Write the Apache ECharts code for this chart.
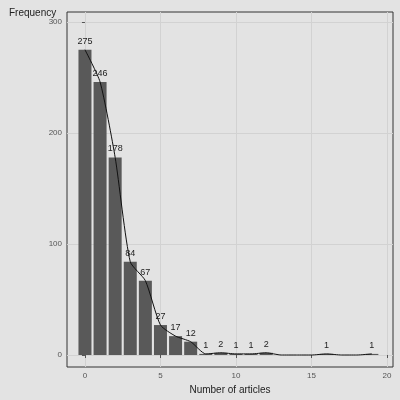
<!DOCTYPE html>
<html><head><meta charset="utf-8">
<script src="https://cdn.jsdelivr.net/npm/echarts@6/dist/echarts.min.js"></script>
<style>body{margin:0;background:#e3e3e3}#c{width:400px;height:400px}</style>
</head><body><div id="c"></div>
<script>
// 数据
var articles = [0,1,2,3,4,5,6,7,8,9,10,11,12,13,14,15,16,17,18,19];
var freq =     [275,246,178,84,67,27,17,12,1,2,1,1,2,0,0,0,1,0,0,1];
var yTicks = [0,100,200,300];
var xTicks = [0,5,10,15,20];

var chart = echarts.init(document.getElementById('c'));
var pts = articles.map(function (a, i) { return [a, freq[i]]; });
var barPts = pts.filter(function (p) { return p[1] > 0; });

chart.setOption({
    backgroundColor: '#e3e3e3',
    animation: false,
    textStyle: { fontFamily: 'Liberation Sans' },
    grid: { left: 67, right: 7, top: 12, bottom: 32, show: true, borderColor: '#333', borderWidth: 1, backgroundColor: '#e3e3e3' },
    title: { text: 'Frequency', left: 4, top: 3, textStyle: { fontSize: 10, fontWeight: 'normal', color: '#222' } },
    xAxis: {
        type: 'value', min: -1.19, max: 20.4,
        name: 'Number of articles', nameLocation: 'middle', nameGap: 18,
        nameTextStyle: { fontSize: 10, color: '#222' },
        axisLine: { show: false },
        axisTick: { customValues: xTicks, length: 3, lineStyle: { color: '#555' } },
        axisLabel: { customValues: xTicks, fontSize: 8, color: '#555', margin: 5 },
        splitLine: { lineStyle: { color: '#d2d2d2' } }
    },
    yAxis: {
        type: 'value', min: -10.8, max: 309,
        axisLine: { show: false },
        axisTick: { customValues: yTicks, length: 3, lineStyle: { color: '#555' } },
        axisLabel: { customValues: yTicks, fontSize: 8, color: '#555', margin: 5 },
        splitLine: { lineStyle: { color: '#d2d2d2' } }
    },
    series: [{
        type: 'bar', data: barPts, barWidth: 13,
        itemStyle: { color: '#595959' },
        label: { show: true, position: 'top', fontSize: 9, color: '#222', distance: 4 }
    }, {
        type: 'line', data: pts, symbol: 'none', smooth: 0.2,
        lineStyle: { color: '#111', width: 1 }
    }]
});
</script></body></html>
